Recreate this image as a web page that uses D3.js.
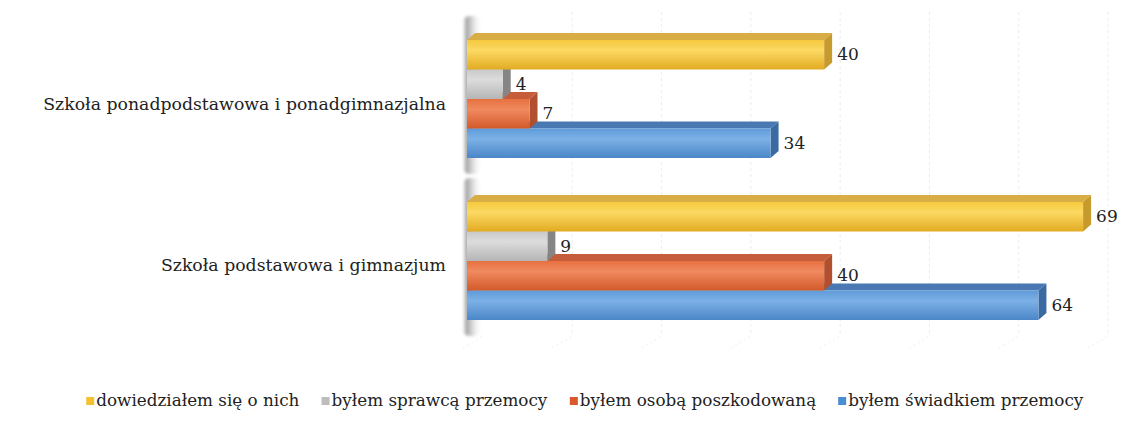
<!DOCTYPE html>
<html>
<head>
<meta charset="utf-8">
<script src="https://cdn.jsdelivr.net/npm/d3@7"></script>
<style>
  body { margin: 0; background: #fff; }
  text { font-family: "DejaVu Serif", serif; fill: #222; }
</style>
</head>
<body>
<div id="chart"></div>
<script>
// Data
const categories = ['Szkoła ponadpodstawowa i ponadgimnazjalna', 'Szkoła podstawowa i gimnazjum'];
const seriesNames = ['dowiedziałem się o nich', 'byłem sprawcą przemocy', 'byłem osobą poszkodowaną', 'byłem świadkiem przemocy'];
const dowiedzialem = [40, 69];
const sprawca = [4, 9];
const poszkodowany = [7, 40];
const swiadek = [34, 64];
const xTicks = [0, 10, 20, 30, 40, 50, 60, 70];

const seriesValues = [dowiedzialem, sprawca, poszkodowany, swiadek];

const dimensions = {
  width: 1146,
  height: 428,
  plotLeft: 467,
  plotRight: 1092,
  plotTop: 40,
  plotBottom: 320,
  depthX: 8,
  depthY: 7,
  wallDepth: 16
}

const colors = [
  { key: 'yel', light: '#fcd963', mid: '#f6c93e', dark: '#e2ab22', top: '#d9ad45', side: '#c79a2e', legend: '#f2c230' },
  { key: 'gry', light: '#dcdcdc', mid: '#c9c9c9', dark: '#b5b5b5', top: '#9a9a9a', side: '#858585', legend: '#bdbdbd' },
  { key: 'org', light: '#f08a60', mid: '#e7703f', dark: '#d35a2a', top: '#c65d3a', side: '#b24f2e', legend: '#d9582c' },
  { key: 'blu', light: '#7cb1e6', mid: '#5f9bd9', dark: '#4a86c8', top: '#4a78b2', side: '#3b6aa3', legend: '#4d8cd2' }
];

const svg = d3.select('#chart')
  .append('svg')
  .attr('width', dimensions.width)
  .attr('height', dimensions.height);

const defs = svg.append('defs');
colors.forEach(c => {
  const g = defs.append('linearGradient')
    .attr('id', 'grad-' + c.key)
    .attr('x1', 0).attr('y1', 0).attr('x2', 0).attr('y2', 1);
  g.append('stop').attr('offset', '0%').attr('stop-color', c.mid);
  g.append('stop').attr('offset', '35%').attr('stop-color', c.light);
  g.append('stop').attr('offset', '100%').attr('stop-color', c.dark);
});
const wallGrad = defs.append('linearGradient')
  .attr('id', 'wall')
  .attr('x1', 0).attr('y1', 0).attr('x2', 1).attr('y2', 0);
wallGrad.append('stop').attr('offset', '0%').attr('stop-color', '#ffffff').attr('stop-opacity', 0);
wallGrad.append('stop').attr('offset', '20%').attr('stop-color', '#8a8a8a').attr('stop-opacity', 0.8);
wallGrad.append('stop').attr('offset', '55%').attr('stop-color', '#c4c4c4').attr('stop-opacity', 0.6);
wallGrad.append('stop').attr('offset', '100%').attr('stop-color', '#ffffff').attr('stop-opacity', 0);
defs.append('filter')
  .attr('id', 'soft')
  .append('feGaussianBlur')
  .attr('stdDeviation', 1.5);

// Scales
const xScale = d3.scaleLinear()
  .domain([0, 70])
  .range([dimensions.plotLeft, dimensions.plotRight]);

const yScale = d3.scaleBand()
  .domain(categories)
  .range([dimensions.plotTop, dimensions.plotBottom])
  .paddingInner(0.2716)
  .paddingOuter(0);

const ySub = d3.scaleBand()
  .domain(d3.range(seriesNames.length))
  .range([0, yScale.bandwidth()]);

// Gridlines on the back wall and floor
const grid = svg.append('g');
grid.selectAll('line.v')
  .data(xTicks.slice(1))
  .join('line')
  .attr('class', 'v')
  .attr('x1', d => xScale(d) + dimensions.wallDepth)
  .attr('x2', d => xScale(d) + dimensions.wallDepth)
  .attr('y1', 12)
  .attr('y2', 336)
  .attr('stroke', '#ececec')
  .attr('stroke-dasharray', '3,3');
grid.selectAll('line.f')
  .data(xTicks)
  .join('line')
  .attr('class', 'f')
  .attr('x1', d => xScale(d) - 4)
  .attr('x2', d => xScale(d) + dimensions.wallDepth)
  .attr('y1', 348)
  .attr('y2', 336)
  .attr('stroke', '#efefef')
  .attr('stroke-dasharray', '2,3');

// Left wall shading, one per category
svg.append('g').selectAll('rect')
  .data(categories)
  .join('rect')
  .attr('x', dimensions.plotLeft - 5)
  .attr('y', d => yScale(d) - 24)
  .attr('width', 20)
  .attr('height', yScale.bandwidth() + 40)
  .attr('rx', 8)
  .attr('fill', 'url(#wall)')
  .attr('filter', 'url(#soft)');

// Bars, drawn bottom series first so upper bars overlap the lower top faces
const dx = dimensions.depthX;
const dy = dimensions.depthY;
const bars = [];
categories.forEach((cat, ci) => {
  seriesValues.forEach((vals, si) => {
    bars.push({ cat, si, value: vals[ci] });
  });
});
bars.sort((a, b) => b.si - a.si);

const barG = svg.append('g').selectAll('g')
  .data(bars)
  .join('g');

barG.each(function (d) {
  const g = d3.select(this);
  const c = colors[d.si];
  const x0 = xScale(0);
  const x1 = xScale(d.value);
  const y0 = yScale(d.cat) + ySub(d.si);
  const y1 = y0 + ySub.bandwidth();
  g.append('path')
    .attr('d', `M${x0},${y0} L${x0 + dx},${y0 - dy} L${x1 + dx},${y0 - dy} L${x1},${y0} Z`)
    .attr('fill', c.top);
  g.append('path')
    .attr('d', `M${x1},${y0} L${x1 + dx},${y0 - dy} L${x1 + dx},${y1 - dy} L${x1},${y1} Z`)
    .attr('fill', c.side);
  g.append('rect')
    .attr('x', x0)
    .attr('y', y0)
    .attr('width', x1 - x0)
    .attr('height', y1 - y0)
    .attr('fill', `url(#grad-${c.key})`);
});

// Value labels
svg.append('g').selectAll('text')
  .data(bars)
  .join('text')
  .attr('x', d => xScale(d.value) + dx + 5)
  .attr('y', d => yScale(d.cat) + ySub(d.si) + ySub.bandwidth() / 2 + 1)
  .attr('dominant-baseline', 'middle')
  .style('font-size', '17px')
  .text(d => d.value);

// Category labels
svg.append('g').selectAll('text')
  .data(categories)
  .join('text')
  .attr('x', 446)
  .attr('y', d => yScale(d) + yScale.bandwidth() / 2 + 6)
  .attr('text-anchor', 'end')
  .attr('dominant-baseline', 'middle')
  .style('font-size', '17.3px')
  .text(d => d);

// Legend
const legendGap = 22;
const legend = svg.append('g');
const items = legend.selectAll('g')
  .data(seriesNames)
  .join('g');
items.append('rect')
  .attr('width', 8)
  .attr('height', 8)
  .attr('y', -4)
  .attr('fill', (d, i) => colors[i].legend);
items.append('text')
  .attr('x', 10)
  .attr('dominant-baseline', 'middle')
  .style('font-size', '16.8px')
  .text(d => d);
let offset = 0;
items.each(function () {
  const w = this.getBBox().width;
  d3.select(this).attr('transform', `translate(${offset}, 401)`);
  offset += w + legendGap;
});
const total = offset - legendGap;
legend.attr('transform', `translate(${585 - total / 2}, 0)`);
</script>
</body>
</html>
